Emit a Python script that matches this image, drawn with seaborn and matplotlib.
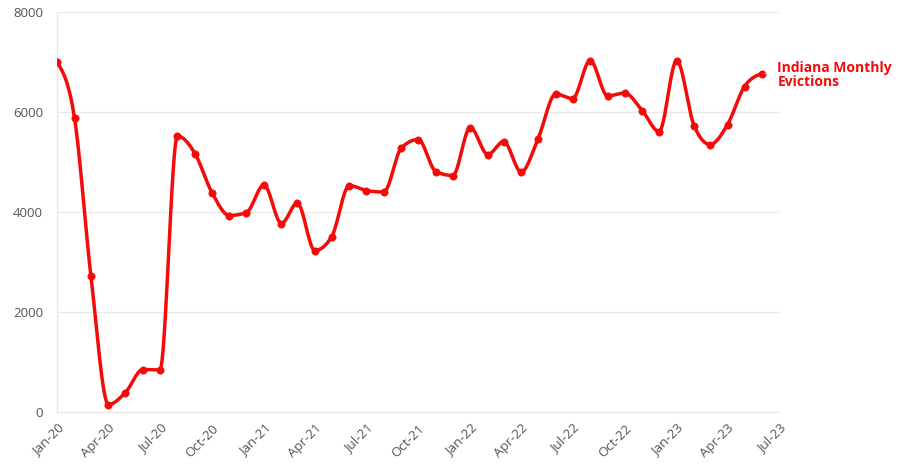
#!/usr/bin/env python3

import numpy as np
import pandas as pd
import seaborn as sns
import matplotlib.pyplot as plt
import matplotlib.dates as mdates

# Monthly evictions, Jan 2020 - Jun 2023.
months = pd.date_range('2020-01-01', periods=42, freq='MS')
evictions = [
    7000, 5880, 2720, 150, 390, 850, 840, 5520, 5170, 4390, 3930, 3990,
    4540, 3770, 4180, 3230, 3510, 4530, 4430, 4400, 5280, 5450, 4810, 4730,
    5690, 5150, 5410, 4800, 5470, 6360, 6270, 7030, 6320, 6380, 6030, 5610,
    7030, 5720, 5350, 5750, 6510, 6770,
]
tick_dates = pd.date_range('2020-01-01', '2023-07-01', freq='3MS')
y_ticks = [0, 2000, 4000, 6000, 8000]
series_label = 'Indiana Monthly\nEvictions'

red = '#f50a0a'


def monotone_curve(x, y, n=16):
    # monotone cubic (like d3 curveMonotoneX) through the data points
    x = np.asarray(x, float)
    y = np.asarray(y, float)
    h = np.diff(x)
    s = np.diff(y) / h
    t = np.zeros_like(y)
    for i in range(1, len(y) - 1):
        p = (s[i - 1] * h[i] + s[i] * h[i - 1]) / (h[i - 1] + h[i])
        t[i] = (np.sign(s[i - 1]) + np.sign(s[i])) * min(abs(s[i - 1]), abs(s[i]), 0.5 * abs(p))
    t[0] = (3 * s[0] - t[1]) / 2
    t[-1] = (3 * s[-1] - t[-2]) / 2
    xs, ys = [], []
    for i in range(len(h)):
        u = np.linspace(0, 1, n, endpoint=(i == len(h) - 1))
        h00 = 2 * u**3 - 3 * u**2 + 1
        h10 = u**3 - 2 * u**2 + u
        h01 = -2 * u**3 + 3 * u**2
        h11 = u**3 - u**2
        xs.append(x[i] + u * h[i])
        ys.append(h00 * y[i] + h10 * h[i] * t[i] + h01 * y[i + 1] + h11 * h[i] * t[i + 1])
    return np.concatenate(xs), np.concatenate(ys)


sns.set_style('white')
plt.rcParams['font.family'] = ['Open Sans', 'DejaVu Sans']

fig = plt.figure(figsize=(9.06, 4.70), dpi=100)
ax = fig.add_axes([57 / 906, 58 / 470, 722 / 906, 400 / 470])

xs, ys = monotone_curve(mdates.date2num(months), evictions)
sns.lineplot(x=pd.to_datetime(xs, unit='D'), y=ys, color=red, linewidth=2.5, ax=ax)
sns.scatterplot(x=months, y=evictions, color=red, edgecolor=red, s=28, zorder=3, ax=ax)

ax.set_xlim(tick_dates[0], tick_dates[-1])
ax.set_ylim(0, 8000)
ax.set_yticks(y_ticks)
ax.set_xticks(tick_dates)
ax.xaxis.set_major_formatter(mdates.DateFormatter('%b-%y'))
ax.set_xlabel('')
ax.set_ylabel('')

ax.grid(axis='y', color='#e9e9e9', linewidth=0.9)
ax.grid(axis='x', visible=False)
for side in ['top', 'right']:
    ax.spines[side].set_visible(False)
for side in ['left', 'bottom']:
    ax.spines[side].set_color('#e6e6e6')
    ax.spines[side].set_linewidth(0.9)

ax.tick_params(axis='y', length=8, color='#e9e9e9', labelsize=9.5, labelcolor='#555555', pad=2)
ax.tick_params(axis='x', length=5, color='#e6e6e6', labelsize=9.5, labelcolor='#555555', pad=2)
plt.setp(ax.get_xticklabels(), rotation=45, ha='right', rotation_mode='anchor')

ax.annotate(series_label, xy=(months[-1], evictions[-1]), xytext=(11, -1),
            textcoords='offset points', va='center', ha='left',
            fontsize=10, fontweight='bold', color=red, linespacing=1.0,
            annotation_clip=False,
            arrowprops=dict(arrowstyle='-', color='#bbbbbb', lw=0.8, shrinkA=5, shrinkB=2))

fig.savefig('out.png', dpi=100)
